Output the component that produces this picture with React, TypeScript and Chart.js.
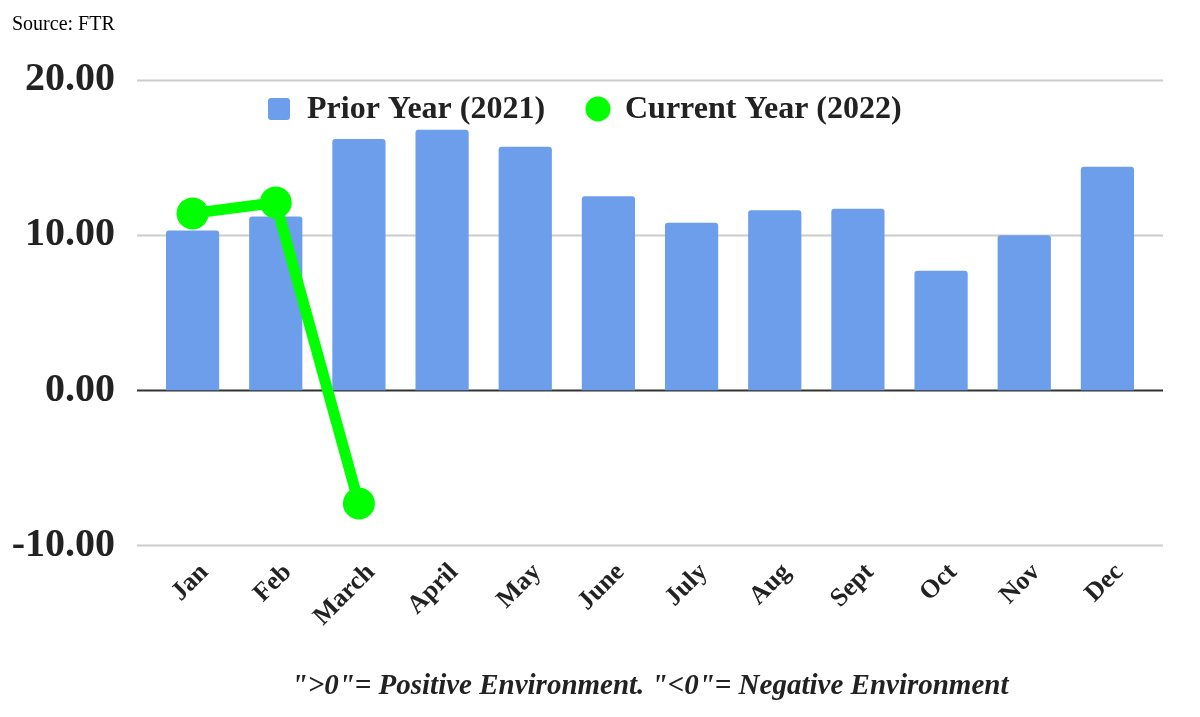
import React, { useEffect, useRef } from "react";
import { Chart, registerables } from "chart.js";

Chart.register(...registerables);

const months = ["Jan", "Feb", "March", "April", "May", "June", "July", "Aug", "Sept", "Oct", "Nov", "Dec"];
const priorYear2021 = [10.3, 11.2, 16.2, 16.8, 15.7, 12.5, 10.8, 11.6, 11.7, 7.7, 10.0, 14.4];
const currentYear2022 = [11.4, 12.1, -7.3, null, null, null, null, null, null, null, null, null];
const yTicks = [-10, 0, 10, 20];
const priorLabel = "Prior Year (2021)";
const currentLabel = "Current Year (2022)";
const sourceText = "Source: FTR";
const noteText = '">0"= Positive Environment. "<0"= Negative Environment';

const SERIF = '"Liberation Serif", "Times New Roman", serif';

export default function App() {
  const ref = useRef<HTMLCanvasElement | null>(null);

  useEffect(() => {
    document.body.style.margin = "0";
    const canvas = ref.current;
    if (!canvas) return;

    const gridPlugin = {
      id: "customGrid",
      beforeDatasetsDraw(chart: any) {
        const { ctx, chartArea } = chart;
        const y = chart.scales.y;
        ctx.save();
        yTicks.forEach((v) => {
          const py = Math.round(y.getPixelForValue(v)) + 0.5;
          ctx.beginPath();
          ctx.strokeStyle = v === 0 ? "#333333" : "#cccccc";
          ctx.lineWidth = 2;
          ctx.moveTo(chartArea.left - 14, py);
          ctx.lineTo(chartArea.right + 14, py);
          ctx.stroke();
        });
        ctx.restore();
      },
    };

    const overlayPlugin = {
      id: "overlay",
      afterDraw(chart: any) {
        const { ctx } = chart;
        ctx.save();
        ctx.fillStyle = "#000000";
        ctx.font = `20px ${SERIF}`;
        ctx.textAlign = "left";
        ctx.textBaseline = "alphabetic";
        ctx.fillText(sourceText, 12, 30);
        const ds = chart.data.datasets;
        const ly = 109;
        ctx.font = `bold 32px ${SERIF}`;
        ctx.textBaseline = "middle";
        ctx.fillStyle = ds[0].backgroundColor;
        ctx.beginPath();
        (ctx as any).roundRect(268, ly - 11, 22, 22, 3);
        ctx.fill();
        ctx.fillStyle = "#222222";
        ctx.fillText(ds[0].label, 307, ly + 1);
        ctx.fillStyle = ds[1].pointBackgroundColor;
        ctx.beginPath();
        ctx.arc(598, ly, 12.5, 0, Math.PI * 2);
        ctx.fill();
        ctx.fillStyle = "#222222";
        ctx.fillText(ds[1].label, 625, ly + 1);
        ctx.restore();
      },
    };

    const chart = new Chart(canvas, {
      type: "bar",
      data: {
        labels: months,
        datasets: [
          {
            type: "bar",
            label: priorLabel,
            data: priorYear2021,
            backgroundColor: "#6d9eeb",
            borderRadius: { topLeft: 3, topRight: 3, bottomLeft: 0, bottomRight: 0 },
            borderSkipped: false,
            barPercentage: 0.64,
            categoryPercentage: 1,
            order: 1,
          } as any,
          {
            type: "line",
            label: currentLabel,
            data: currentYear2022,
            borderColor: "#00ff00",
            backgroundColor: "#00ff00",
            pointBackgroundColor: "#00ff00",
            borderWidth: 11,
            pointRadius: 16,
            pointBorderWidth: 0,
            spanGaps: false,
            order: 0,
          } as any,
        ],
      },
      options: {
        animation: false,
        responsive: false,
        maintainAspectRatio: false,
        layout: { padding: { top: 80, right: 51, bottom: 0, left: 0 } },
        plugins: {
          legend: { display: false },
          tooltip: { enabled: false },
          title: { display: false },
        },
        scales: {
          x: {
            grid: { display: false, drawTicks: false },
            border: { display: false },
            ticks: {
              minRotation: 45,
              maxRotation: 45,
              padding: 12,
              labelOffset: 12,
              color: "#222222",
              font: { family: SERIF, size: 26, weight: "bold" },
            },
            title: {
              display: true,
              text: noteText,
              color: "#222222",
              padding: { top: 25, bottom: 13 },
              font: { family: SERIF, size: 29, weight: "bold", style: "italic" },
            },
          },
          y: {
            min: -10,
            max: 20,
            afterFit(axis: any) {
              axis.width = 151;
            },
            afterBuildTicks(axis: any) {
              axis.ticks = yTicks.map((v) => ({ value: v }));
            },
            grid: { display: false, drawTicks: false },
            border: { display: false },
            ticks: {
              padding: 36,
              color: "#222222",
              font: { family: SERIF, size: 40, weight: "bold" },
              callback: (v: any) => Number(v).toFixed(2),
            },
          },
        },
      },
      plugins: [gridPlugin, overlayPlugin],
    });

    return () => chart.destroy();
  }, []);

  return (
    <div style={{ width: 1200, height: 717 }}>
      <canvas ref={ref} width={1200} height={717} style={{ width: 1200, height: 717, display: "block" }} />
    </div>
  );
}
